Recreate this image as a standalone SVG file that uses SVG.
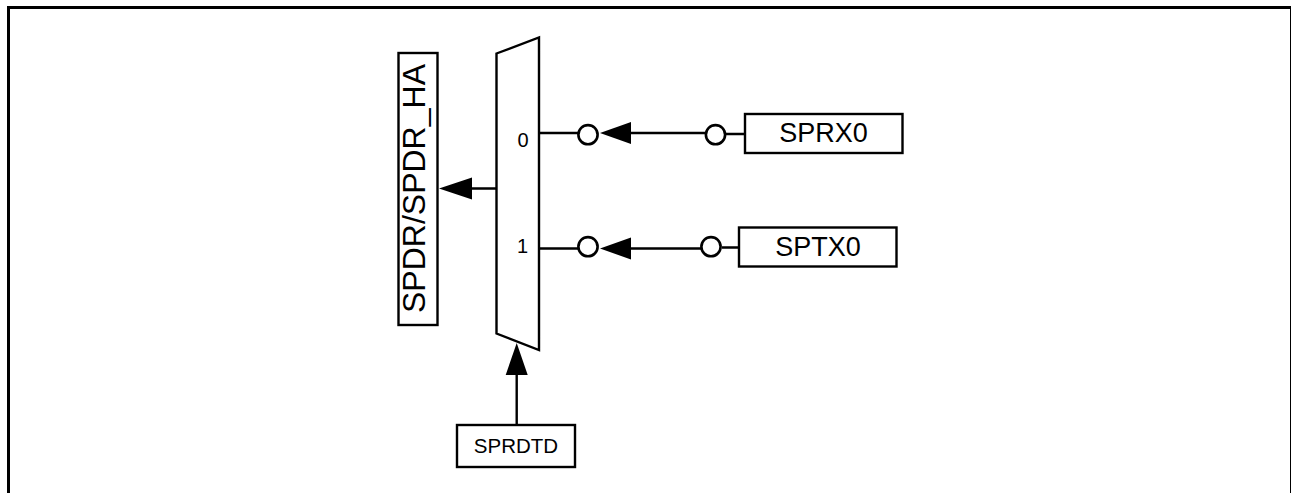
<svg xmlns="http://www.w3.org/2000/svg" width="1291" height="493" viewBox="0 0 1291 493">
<style>
.l{fill:none;stroke:#000;stroke-width:2.4}
.b{fill:#fff;stroke:#000;stroke-width:2.4}
.c{fill:#fff;stroke:#000;stroke-width:2.6}
.a{fill:#000;stroke:none}
text{font-family:"Liberation Sans",Arial,sans-serif;fill:#000}
</style>
<rect width="1291" height="493" fill="#fff"/>
<path d="M8.5 493V7.5H1291.5V493" fill="none" stroke="#000" stroke-width="3"/>
<g id="connectors">
<path class="l" d="M496.5 188.5H470M539 133H578M630 133H705M726 134H745M539 248.5H578M630 248.5H701M722 247.5H739M516.7 374V425"/>
<polygon class="a" points="439,188.5 472,177.5 472,199.5"/>
<polygon class="a" points="600,133 631,122 631,144"/>
<polygon class="a" points="600,248.5 631,237.5 631,259.5"/>
<polygon class="a" points="516.7,343 505.7,375 527.7,375"/>
</g>
<g id="mux">
<polygon class="b" points="496.5,53.5 539,37.5 539,350 496.5,333.5"/>
<text x="523" y="147" font-size="20" text-anchor="middle">0</text>
<text x="522.5" y="253" font-size="20" text-anchor="middle">1</text>
</g>
<g id="spdr">
<rect class="b" x="398.5" y="53" width="39" height="272"/>
<text transform="translate(425,188.5) rotate(-90)" font-size="32" text-anchor="middle">SPDR/SPDR_HA</text>
</g>
<g id="inv-rx-a"><circle class="c" cx="588" cy="134.7" r="9.6"/></g>
<g id="inv-rx-b"><circle class="c" cx="715.5" cy="134.7" r="9.6"/></g>
<g id="inv-tx-a"><circle class="c" cx="588" cy="246.7" r="9.6"/></g>
<g id="inv-tx-b"><circle class="c" cx="711" cy="246.7" r="9.6"/></g>
<g id="sprx0">
<rect class="b" x="745" y="114" width="157.5" height="39"/>
<text x="823.5" y="142" font-size="27" text-anchor="middle">SPRX0</text>
</g>
<g id="sptx0">
<rect class="b" x="739" y="227.5" width="157.5" height="39"/>
<text x="818" y="256" font-size="27" text-anchor="middle">SPTX0</text>
</g>
<g id="sprdtd">
<rect class="b" x="457" y="425" width="118" height="42"/>
<text x="516" y="453" font-size="20.5" text-anchor="middle">SPRDTD</text>
</g>
</svg>
